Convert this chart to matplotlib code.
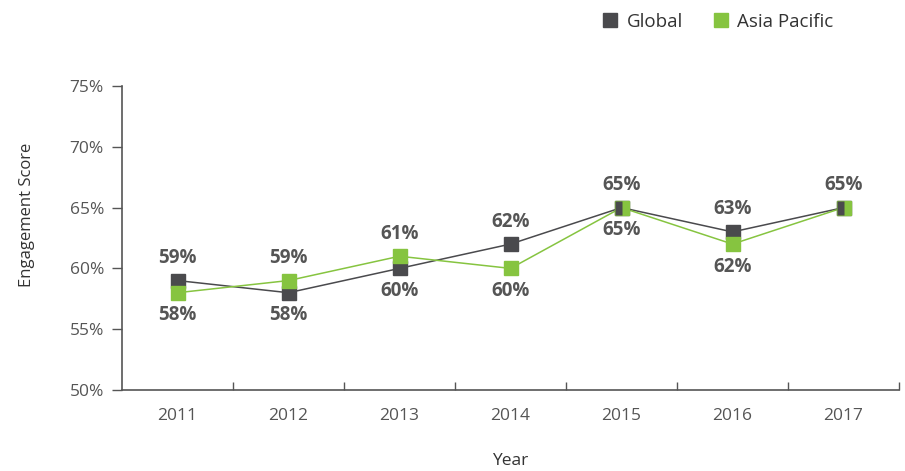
import matplotlib
matplotlib.use("Agg")
import matplotlib.pyplot as plt
from matplotlib.lines import Line2D

years = ["2011", "2012", "2013", "2014", "2015", "2016", "2017"]
global_vals = [59, 58, 60, 62, 65, 63, 65]
asia_vals = [58, 59, 61, 60, 65, 62, 65]
asia_label_shown = [True, True, True, True, True, True, False]
yticks = [50, 55, 60, 65, 70, 75]

GRAY = "#4a4a4d"
GREEN = "#86c440"
TXT = "#555555"

plt.rcParams['font.family'] = ['Open Sans', 'DejaVu Sans']

fig = plt.figure(figsize=(9.05, 4.71), dpi=100)
ax = fig.add_axes([122/905, 1-390/471, (899-122)/905, (390-86)/471])

x = list(range(len(years)))
ax.plot(x, global_vals, color=GRAY, lw=1.1, zorder=2)
ax.plot(x, asia_vals, color=GREEN, lw=1.1, zorder=2)
ax.plot(x, global_vals, ls='none', marker='s', ms=10, color=GRAY, mec=GRAY, zorder=3)
ax.plot(x, asia_vals, ls='none', marker='s', ms=10, color=GREEN, mec=GREEN, zorder=4)
ties = [i for i in x if global_vals[i] == asia_vals[i]]
ax.plot([x[i] for i in ties], [global_vals[i] for i in ties], ls='none', marker='s',
        ms=10, fillstyle='left', markerfacecolor=GRAY, markerfacecoloralt='none',
        mec='none', zorder=5)

for i in x:
    g, a = global_vals[i], asia_vals[i]
    items = [(g, True), (a, asia_label_shown[i])]
    if a > g:
        items = items[::-1]
    (hi, show_hi), (lo, show_lo) = items
    if show_hi:
        ax.annotate(f"{hi}%", (i, hi), xytext=(0, 9), textcoords='offset points',
                    ha='center', va='bottom', fontsize=13.5, fontweight='bold', color=TXT)
    if show_lo:
        ax.annotate(f"{lo}%", (i, lo), xytext=(0, -9), textcoords='offset points',
                    ha='center', va='top', fontsize=13.5, fontweight='bold', color=TXT)

ax.set_xlim(-0.5, len(years) - 0.5)
ax.set_ylim(50, 75)
ax.set_yticks(yticks)
ax.set_yticklabels([f"{v}%" for v in yticks])
ax.set_xticks(x)
ax.set_xticklabels(years)
ax.set_xticks([i + 0.5 for i in x], minor=True)
ax.tick_params(axis='x', which='major', length=0, pad=13, labelsize=12.5, labelcolor=TXT)
ax.tick_params(axis='x', which='minor', direction='in', length=6, width=1, color=TXT)
ax.tick_params(axis='y', direction='out', length=7, width=1, color=TXT, pad=6,
               labelsize=12.5, labelcolor=TXT)
for s in ['top', 'right']:
    ax.spines[s].set_visible(False)
for s in ['left', 'bottom']:
    ax.spines[s].set_color(TXT)
    ax.spines[s].set_linewidth(1.2)

fig.text(27/905, 1-215/471, "Engagement Score", rotation=90, ha='center', va='center',
         fontsize=12, color="#333333")
fig.text(510/905, 1-461/471, "Year", ha='center', va='center', fontsize=12.5, color="#333333")

handles = [Line2D([], [], ls='none', marker='s', ms=10, color=GRAY, label='Global'),
           Line2D([], [], ls='none', marker='s', ms=10, color=GREEN, label='Asia Pacific')]
fig.legend(handles=handles, loc='center', bbox_to_anchor=(718/905, 1-22/471), ncol=2,
           frameon=False, fontsize=13.5, handlelength=0.8, handletextpad=0.5,
           columnspacing=1.6, labelcolor="#333333")

fig.savefig("out.png", dpi=100)
